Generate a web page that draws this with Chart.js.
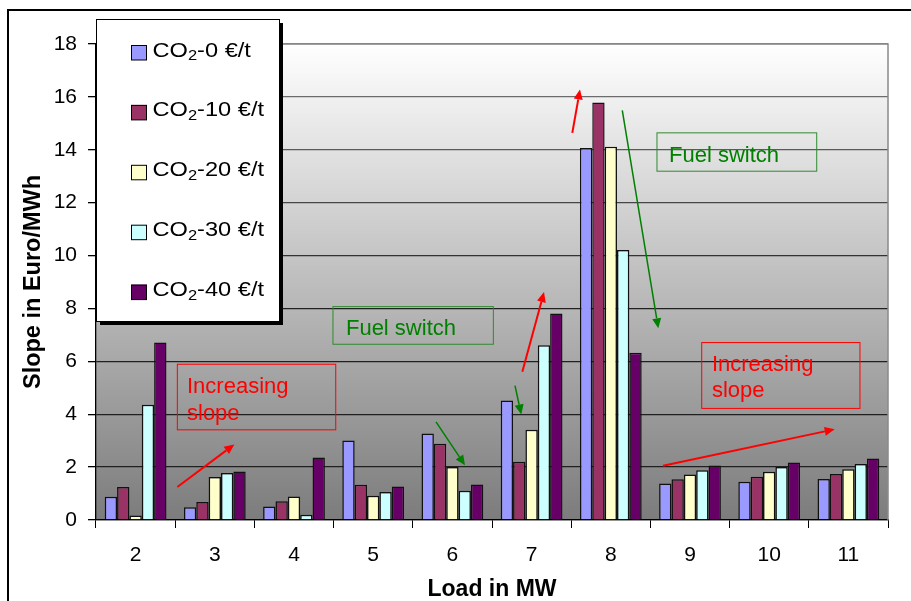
<!DOCTYPE html>
<html><head><meta charset="utf-8">
<script src="https://cdn.jsdelivr.net/npm/chart.js@4"></script>
<style>html,body{margin:0;padding:0;background:#fff}#wrap{width:911px;height:601px;position:relative}</style>
</head><body><div id="wrap"><canvas id="c" width="911" height="601"></canvas></div>
<script>
// ---- data ----
const categories = ['2','3','4','5','6','7','8','9','10','11'];
const seriesLabels = ['CO₂-0 €/t','CO₂-10 €/t','CO₂-20 €/t','CO₂-30 €/t','CO₂-40 €/t'];
const co2_0  = [0.88,0.48,0.51,3.01,3.27,4.52,14.07,1.38,1.45,1.55];
const co2_10 = [1.25,0.68,0.71,1.33,2.88,2.20,15.79,1.54,1.64,1.74];
const co2_20 = [0.17,1.63,0.89,0.92,2.00,3.41,14.11,1.72,1.82,1.92];
const co2_30 = [4.36,1.78,0.20,1.06,1.11,6.61,10.21,1.88,2.00,2.12];
const co2_40 = [6.71,1.83,2.36,1.27,1.34,7.81,6.32,2.06,2.17,2.33];
const seriesColors = ['#9999FF','#993366','#FFFFCC','#CCFFFF','#660066'];
const yMin = 0, yMax = 18, yStep = 2;
const xTitle = 'Load in MW';
const yTitle = 'Slope in Euro/MWh';

// annotations in data coordinates (x: category index, y: value)
const noteBoxes = [
  {x0:0.527,x1:2.527,y0:5.89,y1:3.41,color:'#FF0000',lines:['Increasing','slope'],tx:0.649,ty:[4.82,3.78]},
  {x0:2.492,x1:4.517,y0:8.07,y1:6.646,color:'#008000',border:'#2E8B2E',lines:['Fuel switch'],tx:2.656,ty:[6.98]},
  {x0:6.583,x1:8.600,y0:14.64,y1:13.19,color:'#008000',border:'#2E8B2E',lines:['Fuel switch'],tx:6.735,ty:[13.55]},
  {x0:7.148,x1:9.146,y0:6.71,y1:4.22,color:'#FF0000',lines:['Increasing','slope'],tx:7.277,ty:[5.65,4.64]}
];
const noteArrows = [
  {x0:0.527,y0:1.25,x1:1.247,y1:2.857,color:'#FF0000',w:2},
  {x0:3.793,y0:3.71,x1:4.159,y1:2.07,color:'#008000',w:1.5},
  {x0:4.79,y0:5.08,x1:4.87,y1:3.99,color:'#008000',w:1.5},
  {x0:4.883,y0:5.61,x1:5.157,y1:8.62,color:'#FF0000',w:2},
  {x0:5.514,y0:14.64,x1:5.611,y1:16.28,color:'#FF0000',w:2},
  {x0:6.145,y0:15.49,x1:6.60,y1:7.25,color:'#008000',w:1.5},
  {x0:6.659,y0:2.05,x1:8.827,y1:3.43,color:'#FF0000',w:2}
];

const FONT = '"Liberation Sans", Arial, sans-serif';

const decor = {
  id:'decor',
  beforeDraw(chart){
    const {ctx, chartArea:a} = chart;
    ctx.save();
    ctx.fillStyle='#fff'; ctx.fillRect(0,0,chart.width,chart.height);
    const g = ctx.createLinearGradient(0,a.top,0,a.bottom);
    g.addColorStop(0,'#ffffff'); g.addColorStop(1,'#7c7c7c');
    ctx.fillStyle=g; ctx.fillRect(a.left,a.top,a.right-a.left,a.bottom-a.top);
    // outer frame
    ctx.strokeStyle='#000'; ctx.lineWidth=2;
    ctx.beginPath(); ctx.moveTo(8,chart.height+2); ctx.lineTo(8,10); ctx.lineTo(chart.width+2,10); ctx.stroke();
    ctx.restore();
  },
  afterDraw(chart){
    const {ctx, chartArea:a, scales:{x,y}} = chart;
    ctx.save();
    // plot border top & right
    ctx.strokeStyle='#8a8a8a'; ctx.lineWidth=1.5;
    ctx.beginPath(); ctx.moveTo(a.left,a.top); ctx.lineTo(a.right,a.top); ctx.lineTo(a.right,a.bottom); ctx.stroke();
    // annotation boxes
    ctx.font = '22px '+FONT;
    ctx.textBaseline='alphabetic'; ctx.textAlign='left';
    noteBoxes.forEach(b=>{
      const px0=x.getPixelForValue(b.x0), px1=x.getPixelForValue(b.x1);
      const py0=y.getPixelForValue(b.y0), py1=y.getPixelForValue(b.y1);
      ctx.strokeStyle=b.border||b.color; ctx.lineWidth=1;
      ctx.strokeRect(px0,py0,px1-px0,py1-py0);
      ctx.fillStyle=b.color;
      b.lines.forEach((t,i)=>ctx.fillText(t,x.getPixelForValue(b.tx),y.getPixelForValue(b.ty[i])));
    });
    // arrows
    noteArrows.forEach(r=>{
      const X0=x.getPixelForValue(r.x0),Y0=y.getPixelForValue(r.y0);
      const X1=x.getPixelForValue(r.x1),Y1=y.getPixelForValue(r.y1);
      const ang=Math.atan2(Y1-Y0,X1-X0), L=10, W=4.5;
      const bx=X1-L*Math.cos(ang), by=Y1-L*Math.sin(ang);
      ctx.strokeStyle=r.color; ctx.fillStyle=r.color; ctx.lineWidth=r.w;
      ctx.beginPath(); ctx.moveTo(X0,Y0); ctx.lineTo(bx,by); ctx.stroke();
      ctx.beginPath(); ctx.moveTo(X1,Y1);
      ctx.lineTo(bx+W*Math.sin(ang),by-W*Math.cos(ang));
      ctx.lineTo(bx-W*Math.sin(ang),by+W*Math.cos(ang));
      ctx.closePath(); ctx.fill();
    });
    // legend
    const lx=96, ly=19, lw=183, lh=302;
    ctx.fillStyle='#000'; ctx.fillRect(lx+4,ly+4,lw,lh);
    ctx.fillStyle='#fff'; ctx.fillRect(lx,ly,lw,lh);
    ctx.strokeStyle='#000'; ctx.lineWidth=1; ctx.strokeRect(lx+0.5,ly+0.5,lw,lh);
    chart.data.datasets.forEach((ds,i)=>{
      const cy = 52.5 + i*59.9;
      ctx.fillStyle=ds.backgroundColor; ctx.fillRect(131,cy-7.5,16,15);
      ctx.strokeStyle='#000'; ctx.lineWidth=1; ctx.strokeRect(131.5,cy-7,15,14.5);
      const parts = ds.label.split('₂');
      ctx.save();
      ctx.translate(152.5, cy+4);
      ctx.scale(1.18,1);
      ctx.fillStyle='#000';
      let tx=0;
      ctx.font='20px '+FONT; ctx.fillText(parts[0],tx,0); tx+=ctx.measureText(parts[0]).width;
      ctx.font='14px '+FONT; ctx.fillText('2',tx,3.5); tx+=ctx.measureText('2').width;
      ctx.font='20px '+FONT; ctx.fillText(parts[1],tx,0);
      ctx.restore();
    });
    ctx.restore();
  }
};

const seriesData=[co2_0,co2_10,co2_20,co2_30,co2_40];
new Chart(document.getElementById('c'),{
  type:'bar',
  data:{labels:categories,datasets:seriesData.map((d,i)=>({
    label:seriesLabels[i],data:d,backgroundColor:seriesColors[i],
    borderColor:'#111',borderWidth:1.5,categoryPercentage:0.78,barPercentage:1.0
  }))},
  options:{
    responsive:false,animation:false,devicePixelRatio:1,
    layout:{padding:{left:8,top:44,right:23,bottom:0}},
    plugins:{legend:{display:false},tooltip:{enabled:false}},
    scales:{
      x:{
        grid:{drawOnChartArea:false,drawTicks:true,tickLength:8,tickColor:'#000',tickWidth:1},
        border:{display:true,color:'#000',width:1.3},
        ticks:{color:'#000',font:{family:FONT,size:21},padding:15,maxRotation:0},
        title:{display:true,text:xTitle,color:'#000',font:{family:FONT,size:23,weight:'bold'},padding:{top:0,bottom:-2}},
        afterFit(s){s.height=81;}
      },
      y:{
        min:yMin,max:yMax,
        grid:{color:(c)=>{const v=c.tick?c.tick.value:0;const k=Math.round(v>=8?0x20+(v-8)*9.5:0x20);return `rgb(${k},${k},${k})`;},lineWidth:1.3,drawTicks:true,tickLength:8,tickColor:'#000'},
        border:{display:true,color:'#000',width:1.3},
        ticks:{stepSize:yStep,color:'#000',font:{family:FONT,size:21},padding:11},
        title:{display:true,text:yTitle,color:'#000',font:{family:FONT,size:23.5,weight:'bold'},padding:{top:11,bottom:0}},
        afterFit(s){s.width=88;}
      }
    }
  },
  plugins:[decor]
});
</script></body></html>
